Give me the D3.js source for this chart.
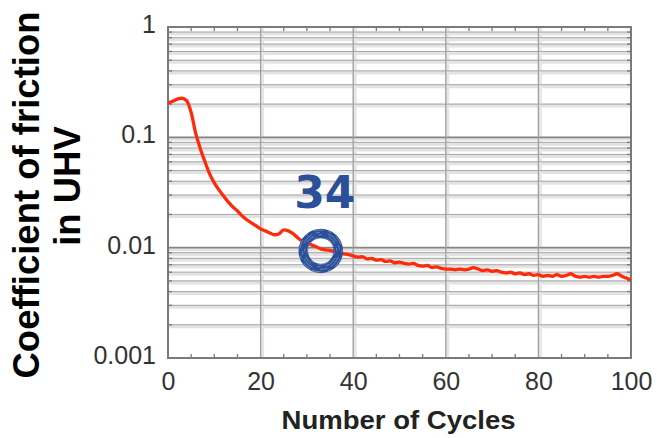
<!DOCTYPE html>
<html>
<head>
<meta charset="utf-8">
<script src="https://cdn.jsdelivr.net/npm/d3@7"></script>
<style>
  html, body { margin: 0; padding: 0; background: #fff; }
  svg { display: block; }
</style>
</head>
<body>
<svg id="chart" width="657" height="438"></svg>
<script>
// Friction coefficient in ultra-high vacuum versus sliding cycle
const cycles = d3.range(0, 101);
const cof = [
  0.205, 0.212, 0.222, 0.226, 0.216, 0.168, 0.108, 0.0785, 0.0599, 0.0466,
  0.0386, 0.0334, 0.0294, 0.0260, 0.0234, 0.0215, 0.0194, 0.0179, 0.0168, 0.0158,
  0.0148, 0.0142, 0.0136, 0.0131, 0.0134, 0.0145, 0.0142, 0.0134, 0.0123, 0.0115,
  0.0111, 0.0106, 0.0102, 0.00975, 0.00955, 0.00945, 0.00915, 0.00905, 0.00880, 0.00865,
  0.00843, 0.00820, 0.00830, 0.00790, 0.00800, 0.00770, 0.00780, 0.00750, 0.00760, 0.00730,
  0.00740, 0.00720, 0.00710, 0.00720, 0.00690, 0.00680, 0.00690, 0.00660, 0.00670, 0.00650,
  0.00640, 0.00640, 0.00630, 0.00640, 0.00630, 0.00640, 0.00660, 0.00640, 0.00620, 0.00630,
  0.00610, 0.00620, 0.00600, 0.00590, 0.00600, 0.00580, 0.00590, 0.00570, 0.00580, 0.00560,
  0.00570, 0.00550, 0.00560, 0.00550, 0.00570, 0.00550, 0.00560, 0.00580, 0.00550, 0.00540,
  0.00550, 0.00540, 0.00550, 0.00540, 0.00550, 0.00550, 0.00560, 0.00580, 0.00550, 0.00530,
  0.00510
];

const xTicks = [0, 20, 40, 60, 80, 100];
const xTickLabels = ["0", "20", "40", "60", "80", "100"];
const yTicks = [0.001, 0.01, 0.1, 1];
const yTickLabels = ["0.001", "0.01", "0.1", "1"];

const xTitle = "Number of Cycles";
const yTitleLines = ["Coefficient of friction", "in UHV"];

const markerCycle = 33;
const markerLabel = "34";

// plot frame
const plotLeft = 168, plotRight = 631, plotTop = 27, plotBottom = 358;

const svg = d3.select("#chart");

const x = d3.scaleLinear().domain([0, 100]).range([plotLeft, plotRight]);
const y = d3.scaleLog().domain([0.001, 1]).range([plotBottom, plotTop]);

// minor grid values for the log axis (2..9 within each decade)
const yMinor = [];
[0.001, 0.01, 0.1].forEach(d => { for (let k = 2; k <= 9; k++) yMinor.push(d * k); });
const xMinor = d3.range(5, 100, 5).filter(v => v % 20 !== 0);

const grid = svg.append("g");

// soft halo under each grid line
grid.selectAll(".hband").data(yMinor.concat(yTicks.slice(1, 3))).join("line")
  .attr("x1", plotLeft).attr("x2", plotRight)
  .attr("y1", d => y(d) + 1.5).attr("y2", d => y(d) + 1.5)
  .attr("stroke", "#e3e3e3").attr("stroke-width", 4);
grid.selectAll(".vband").data(xTicks.slice(1, 5)).join("line")
  .attr("x1", d => x(d) + 1.5).attr("x2", d => x(d) + 1.5)
  .attr("y1", plotTop).attr("y2", plotBottom)
  .attr("stroke", "#e6e6e6").attr("stroke-width", 4);

// grid lines
grid.selectAll(".hminor").data(yMinor).join("line")
  .attr("x1", plotLeft).attr("x2", plotRight)
  .attr("y1", d => y(d)).attr("y2", d => y(d))
  .attr("stroke", "#a8a8a8").attr("stroke-width", 1);
grid.selectAll(".hmajor").data(yTicks.slice(1, 3)).join("line")
  .attr("x1", plotLeft).attr("x2", plotRight)
  .attr("y1", d => y(d)).attr("y2", d => y(d))
  .attr("stroke", "#858585").attr("stroke-width", 1.6);
grid.selectAll(".vmajor").data(xTicks.slice(1, 5)).join("line")
  .attr("x1", d => x(d)).attr("x2", d => x(d))
  .attr("y1", plotTop).attr("y2", plotBottom)
  .attr("stroke", "#a0a0a0").attr("stroke-width", 1.3);

// frame
svg.append("rect")
  .attr("x", plotLeft).attr("y", plotTop)
  .attr("width", plotRight - plotLeft).attr("height", plotBottom - plotTop)
  .attr("fill", "none").attr("stroke", "#7a7a7a").attr("stroke-width", 2);

// minor ticks on all four sides, pointing inward
const tk = svg.append("g").attr("stroke", "#777").attr("stroke-width", 1.3);
tk.selectAll(".tb").data(xMinor).join("line")
  .attr("x1", d => x(d)).attr("x2", d => x(d))
  .attr("y1", plotBottom).attr("y2", plotBottom - 4);
tk.selectAll(".tt").data(xMinor).join("line")
  .attr("x1", d => x(d)).attr("x2", d => x(d))
  .attr("y1", plotTop).attr("y2", plotTop + 4);
tk.selectAll(".tl").data(yMinor).join("line")
  .attr("x1", plotLeft).attr("x2", plotLeft + 4)
  .attr("y1", d => y(d)).attr("y2", d => y(d));
tk.selectAll(".tr").data(yMinor).join("line")
  .attr("x1", plotRight).attr("x2", plotRight - 4)
  .attr("y1", d => y(d)).attr("y2", d => y(d));

// axes (labels only; the frame draws the spines)
const xAxis = d3.axisBottom(x).tickValues(xTicks)
  .tickFormat((d, i) => xTickLabels[i]).tickSize(0).tickPadding(14);
const gx = svg.append("g").attr("transform", `translate(0,${plotBottom})`).call(xAxis);
gx.select(".domain").remove();
gx.selectAll("text").attr("font-family", "Liberation Sans, Arial, sans-serif")
  .attr("font-size", 25).attr("fill", "#333");

const yAxis = d3.axisLeft(y).tickValues(yTicks)
  .tickFormat((d, i) => yTickLabels[i]).tickSize(0).tickPadding(12);
const gy = svg.append("g").attr("transform", `translate(${plotLeft},0)`).call(yAxis);
gy.select(".domain").remove();
gy.selectAll("text").attr("font-family", "Liberation Sans, Arial, sans-serif")
  .attr("font-size", 25).attr("fill", "#333").attr("dy", "0.22em");

// friction curve
const line = d3.line()
  .x((d, i) => x(cycles[i]))
  .y(d => y(d))
  .curve(d3.curveMonotoneX);
svg.append("path")
  .datum(cof)
  .attr("d", line)
  .attr("fill", "none")
  .attr("stroke", "#ff2a0a")
  .attr("stroke-width", 3.3)
  .attr("stroke-linejoin", "round");

// highlighted cycle: brush-style ring with its label
const mx = x(markerCycle), my = y(cof[markerCycle]);
const ring = svg.append("g").attr("transform", `translate(${mx},${my + 2})`);
ring.append("circle").attr("r", 17.5)
  .attr("fill", "none").attr("stroke", "#2b4f98").attr("stroke-width", 9.5);
[13.5, 16, 18.5, 21].forEach((r, i) => {
  ring.append("circle").attr("r", r)
    .attr("fill", "none").attr("stroke", "#ffffff")
    .attr("stroke-opacity", 0.35).attr("stroke-width", 0.8)
    .attr("stroke-dasharray", i % 2 ? "9 5 3 7" : "4 8 12 4")
    .attr("transform", `rotate(${i * 40})`);
});
svg.append("text")
  .attr("x", mx + 4).attr("y", my - 41)
  .attr("text-anchor", "middle")
  .attr("font-family", "DejaVu Sans, sans-serif")
  .attr("font-weight", "bold").attr("font-size", 44)
  .attr("fill", "#2b4f98")
  .text(markerLabel);

// axis titles
svg.append("text")
  .attr("x", (plotLeft + plotRight) / 2 - 1).attr("y", 429)
  .attr("text-anchor", "middle")
  .attr("font-family", "Liberation Sans, Arial, sans-serif")
  .attr("font-weight", "bold").attr("font-size", 25)
  .attr("textLength", 234).attr("lengthAdjust", "spacingAndGlyphs")
  .attr("fill", "#222")
  .text(xTitle);

const titleCentres = [195, 186];
yTitleLines.forEach((t, i) => {
  svg.append("text")
    .attr("transform", `translate(${39 + i * 41},${titleCentres[i]}) rotate(-90)`)
    .attr("text-anchor", "middle")
    .attr("font-family", "Liberation Sans, Arial, sans-serif")
    .attr("font-weight", "bold").attr("font-size", 36.5)
    .attr("fill", "#000")
    .text(t);
});
</script>
</body>
</html>
